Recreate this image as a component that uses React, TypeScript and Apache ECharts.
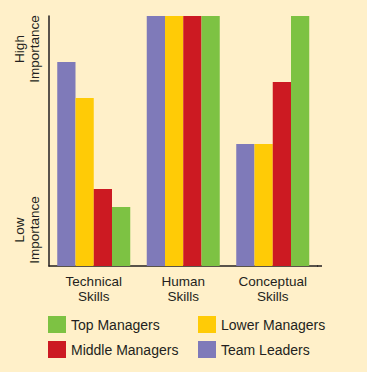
import React, { useEffect, useRef } from "react";
import * as echarts from "echarts";

const categories = ["Technical\nSkills", "Human\nSkills", "Conceptual\nSkills"];
const teamLeaders = [81.6, 100, 48.8];
const lowerManagers = [67.2, 100, 48.8];
const middleManagers = [30.8, 100, 73.6];
const topManagers = [23.6, 100, 100];

const FONT = "'Liberation Sans', Arial, sans-serif";
const TXT = "#231f20";

export default function App() {
  const ref = useRef<HTMLDivElement>(null);
  useEffect(() => {
    const chart = echarts.init(ref.current!, null, { renderer: "svg" });
    const mk = (name: string, data: number[], color: string) => ({
      name,
      type: "bar",
      data,
      barWidth: 18.25,
      barGap: "0%",
      itemStyle: { color },
      emphasis: { disabled: true },
    });
    const legendBase = {
      orient: "vertical",
      top: 311,
      itemWidth: 18,
      itemHeight: 17,
      itemGap: 8,
      icon: "rect",
      selectedMode: false,
      textStyle: { color: TXT, fontSize: 14, fontFamily: FONT, lineHeight: 17 },
    };
    chart.setOption({
      animation: false,
      backgroundColor: "#fff0c9",
      textStyle: { fontFamily: FONT },
      grid: { left: 49, right: 49.5, top: 16, bottom: 106, containLabel: false },
      xAxis: {
        type: "category",
        data: categories,
        axisLine: { show: true, lineStyle: { color: TXT, width: 1.5 } },
        axisTick: { show: false },
        axisLabel: { color: TXT, fontSize: 13.5, lineHeight: 15, fontFamily: FONT, margin: 8, interval: 0 },
      },
      yAxis: {
        type: "value",
        min: 0,
        max: 100,
        axisLine: { show: true, lineStyle: { color: TXT, width: 1.5 } },
        axisTick: { show: false },
        axisLabel: { show: false },
        splitLine: { show: false },
      },
      legend: [
        { ...legendBase, data: ["Top Managers", "Middle Managers"], left: 43 },
        { ...legendBase, data: ["Lower Managers", "Team Leaders"], left: 193 },
      ],
      graphic: [
        {
          type: "line",
          shape: { x1: 317, y1: 266, x2: 322, y2: 266 },
          style: { stroke: TXT, lineWidth: 1.5 },
        },
        {
          type: "text",
          x: 27,
          y: 49,
          rotation: Math.PI / 2,
          style: {
            text: "High\nImportance",
            fill: TXT,
            font: `13.5px ${FONT}`,
            lineHeight: 15,
            align: "center",
            verticalAlign: "middle",
          },
        },
        {
          type: "text",
          x: 27,
          y: 230,
          rotation: Math.PI / 2,
          style: {
            text: "Low\nImportance",
            fill: TXT,
            font: `13.5px ${FONT}`,
            lineHeight: 15,
            align: "center",
            verticalAlign: "middle",
          },
        },
      ],
      series: [
        mk("Team Leaders", teamLeaders, "#7f7ab9"),
        mk("Lower Managers", lowerManagers, "#ffcb06"),
        mk("Middle Managers", middleManagers, "#cc1a22"),
        mk("Top Managers", topManagers, "#7dc243"),
      ],
    });
    return () => chart.dispose();
  }, []);
  return <div ref={ref} style={{ width: 367, height: 372, position: "absolute", left: 0, top: 0 }} />;
}
